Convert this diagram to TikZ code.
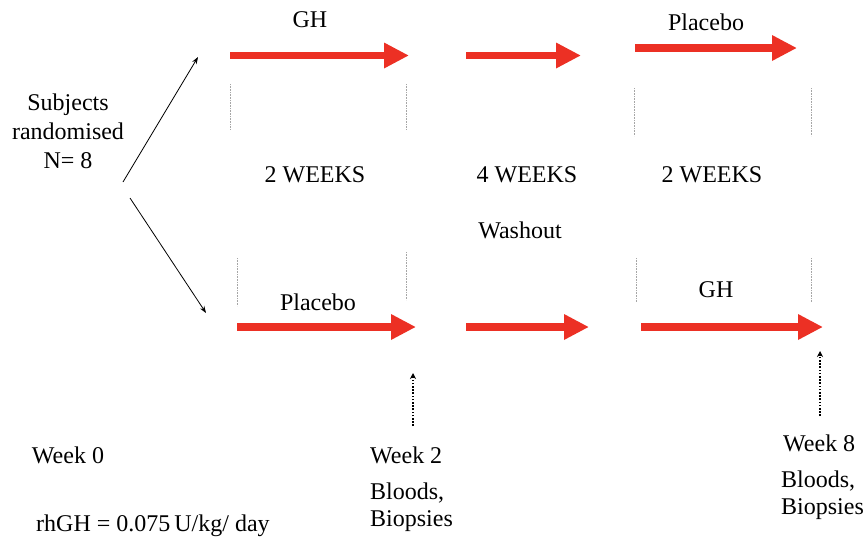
\documentclass[tikz,border=0pt]{standalone}
\usepackage{fontspec}
\setmainfont{Liberation Serif}
\usetikzlibrary{arrows.meta}
\definecolor{armred}{RGB}{236,48,36}
\begin{document}
\begin{tikzpicture}[x=1pt,y=-1pt,
  period/.style={draw=armred,line width=7.5pt,-{Triangle[width=24pt,length=25pt]}},
  split/.style={draw=black,line width=0.8pt,-{Stealth[width=5pt,length=7pt]}},
  sample/.style={draw=black,line width=1.8pt,dash pattern=on 1.6pt off 1.6pt,-{Stealth[width=6pt,length=6pt]}},
  tick/.style={draw=gray!70,line width=0.6pt,densely dotted},
  lbl/.style={inner sep=0pt,font=\fontsize{24}{28}\selectfont},
  lbll/.style={lbl,anchor=west}]
\useasboundingbox (0,0) rectangle (868,541);

% randomisation
\node[lbl,align=center,font=\fontsize{24}{29}\selectfont] (subj) at (68,131) {Subjects\\randomised\\N= 8};
\coordinate (up0) at (123,182);
\coordinate (up1) at (198,57);
\coordinate (dn0) at (130,198);
\coordinate (dn1) at (206,313);
\draw[split] (up0) -- (up1);
\draw[split] (dn0) -- (dn1);

% top sequence: GH, washout, placebo
\coordinate (ta0) at (230,55.5);  \coordinate (ta1) at (409,55.5);
\coordinate (tb0) at (466,55.5);  \coordinate (tb1) at (581,55.5);
\coordinate (tc0) at (635,48);    \coordinate (tc1) at (797,48);
\draw[period] (ta0) -- (ta1);
\draw[period] (tb0) -- (tb1);
\draw[period] (tc0) -- (tc1);
\node[lbl] (tgh) at (310,20) {GH};
\node[lbl] (tpl) at (706,22) {Placebo};

% bottom sequence: placebo, washout, GH
\coordinate (ba0) at (237,327);  \coordinate (ba1) at (416,327);
\coordinate (bb0) at (466,327);  \coordinate (bb1) at (589,327);
\coordinate (bc0) at (641,327);  \coordinate (bc1) at (823,327);
\draw[period] (ba0) -- (ba1);
\draw[period] (bb0) -- (bb1);
\draw[period] (bc0) -- (bc1);
\node[lbl] (bpl) at (318,302) {Placebo};
\node[lbl] (bgh) at (716,290) {GH};

% period boundaries
\coordinate (t1a) at (230,84);  \coordinate (t1b) at (230,130);
\coordinate (t2a) at (406,84);  \coordinate (t2b) at (406,130);
\coordinate (t3a) at (634,88);  \coordinate (t3b) at (634,136);
\coordinate (t4a) at (811,88);  \coordinate (t4b) at (811,136);
\draw[tick] (t1a) -- (t1b);
\draw[tick] (t2a) -- (t2b);
\draw[tick] (t3a) -- (t3b);
\draw[tick] (t4a) -- (t4b);
\coordinate (b1a) at (237,258); \coordinate (b1b) at (237,306);
\coordinate (b2a) at (406,252); \coordinate (b2b) at (406,300);
\coordinate (b3a) at (636,258); \coordinate (b3b) at (636,302);
\coordinate (b4a) at (811,258); \coordinate (b4b) at (811,302);
\draw[tick] (b1a) -- (b1b);
\draw[tick] (b2a) -- (b2b);
\draw[tick] (b3a) -- (b3b);
\draw[tick] (b4a) -- (b4b);

% durations
\node[lbl] (w2a) at (315,175) {2 WEEKS};
\node[lbl] (w4)  at (527,175) {4 WEEKS};
\node[lbl] (w2b) at (712,175) {2 WEEKS};
\node[lbl] (wash) at (520,230) {Washout};

% sampling points
\node[lbl] (wk0) at (68,455) {Week 0};
\node[lbll] (wk2) at (370,455) {Week 2};
\node[lbll] (bl2) at (370,493) {Bloods,};
\node[lbll] (bi2) at (370,521) {Biopsies};
\node[lbll] (wk8) at (783,443) {Week 8};
\node[lbll] (bl8) at (781,481) {Bloods,};
\node[lbll] (bi8) at (781,509) {Biopsies};
\node[lbll] (dose) at (36,526) {rhGH = 0.075\,U/kg/ day};
\coordinate (s2a) at (413,426); \coordinate (s2) at (413,373);
\coordinate (s8a) at (820,416); \coordinate (s8) at (820,351);
\draw[sample] (s2a) -- (s2);
\draw[sample] (s8a) -- (s8);
\end{tikzpicture}
\end{document}
